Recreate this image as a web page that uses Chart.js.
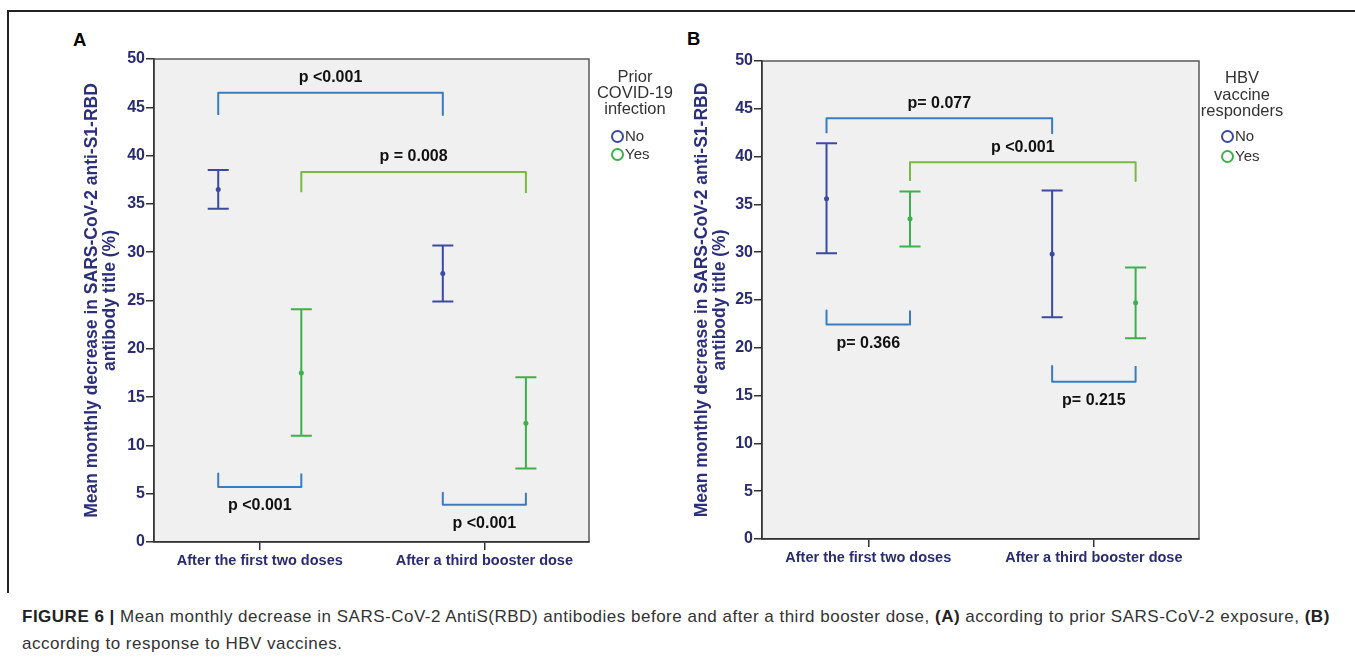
<!DOCTYPE html>
<html lang="en">
<head>
<meta charset="utf-8">
<title>Figure 6</title>
<script src="https://cdn.jsdelivr.net/npm/chart.js@4.4.1/dist/chart.umd.min.js"></script>
<style>
  html, body { margin: 0; padding: 0; background: #fff; }
  body {
    position: relative; width: 1355px; height: 664px; overflow: hidden;
    font-family: "Liberation Sans", Arial, Helvetica, sans-serif;
  }
  canvas { position: absolute; top: 0; }
  #frame-top { position: absolute; left: 7px; top: 10px; width: 1348px; height: 2px; background: #222; }
  #frame-left { position: absolute; left: 7px; top: 10px; width: 2px; height: 583px; background: #222; }
  .letter { position: absolute; font-weight: bold; font-size: 18.5px; line-height: 20px; color: #000; }
  .legend-title { position: absolute; width: 120px; text-align: center; color: #333; font-size: 16.5px; }
  .legend-item { position: absolute; display: flex; align-items: center; color: #333; font-size: 15px; line-height: 16px; }
  .legend-item i { display: inline-block; width: 9px; height: 9px; border: 2px solid; border-radius: 50%; margin-right: 1px; }
  .caption { position: absolute; left: 22px; top: 603px; font-size: 17px; letter-spacing: 0.5px; line-height: 27px; color: #333; white-space: nowrap; }
  .caption b { color: #222; }
</style>
</head>
<body>
<div id="frame-top"></div>
<div id="frame-left"></div>

<div class="letter" style="left:73px; top:30px;">A</div>
<div class="letter" style="left:687px; top:29px;">B</div>

<canvas id="chart-a" width="677" height="600" style="left:0"></canvas>
<canvas id="chart-b" width="678" height="600" style="left:677px"></canvas>

<div class="legend-title" style="left:575px; top:68px; line-height:16px;">Prior<br>COVID-19<br>infection</div>
<div class="legend-item" style="left:611px; top:128px;"><i style="border-color:#3b4aa0"></i>No</div>
<div class="legend-item" style="left:611px; top:146px;"><i style="border-color:#3cb04a"></i>Yes</div>

<div class="legend-title" style="left:1182px; top:69px; line-height:16.7px;">HBV<br>vaccine<br>responders</div>
<div class="legend-item" style="left:1221px; top:128px;"><i style="border-color:#3b4aa0"></i>No</div>
<div class="legend-item" style="left:1221px; top:148px;"><i style="border-color:#3cb04a"></i>Yes</div>

<div class="caption"><b>FIGURE 6 |</b> Mean monthly decrease in SARS-CoV-2 AntiS(RBD) antibodies before and after a third booster dose, <b>(A)</b> according to prior SARS-CoV-2 exposure, <b>(B)</b><br>according to response to HBV vaccines.</div>

<script>
// Figura 6: duas tabelas de erro (média e IC 95%) com colchetes de significância.
(function () {
  "use strict";

  if (typeof Chart === "undefined") return;

  // ---- Dados ----
  var DOSES = ["After the first two doses", "After a third booster dose"];
  var Y_TICKS = [0, 5, 10, 15, 20, 25, 30, 35, 40, 45, 50];

  // A: infecção prévia por COVID-19
  var A_NO_MEAN = [36.5, 27.8];
  var A_NO_LOW = [34.5, 24.9];
  var A_NO_HIGH = [38.5, 30.7];
  var A_YES_MEAN = [17.5, 12.3];
  var A_YES_LOW = [11.0, 7.6];
  var A_YES_HIGH = [24.1, 17.05];

  // colchetes de A: [dose, grupo] de cada ponta, altura da barra e das pontas
  var A_BR_FROM = [[0, "No"], [0, "Yes"], [0, "No"], [1, "No"]];
  var A_BR_TO = [[1, "No"], [1, "Yes"], [0, "Yes"], [1, "Yes"]];
  var A_BR_BAR = [46.5, 38.3, 5.7, 3.85];
  var A_BR_TIP = [44.2, 36.2, 7.1, 5.1];
  var A_P_TEXT = ["p <0.001", "p = 0.008", "p <0.001", "p <0.001"];

  // B: respondedores à vacina de HBV
  var B_NO_MEAN = [35.6, 29.8];
  var B_NO_LOW = [29.9, 23.2];
  var B_NO_HIGH = [41.4, 36.45];
  var B_YES_MEAN = [33.5, 24.7];
  var B_YES_LOW = [30.6, 21.0];
  var B_YES_HIGH = [36.35, 28.4];

  var B_BR_FROM = [[0, "No"], [0, "Yes"], [0, "No"], [1, "No"]];
  var B_BR_TO = [[1, "No"], [1, "Yes"], [0, "Yes"], [1, "Yes"]];
  var B_BR_BAR = [44.0, 39.4, 22.45, 16.45];
  var B_BR_TIP = [42.45, 37.45, 23.9, 18.1];
  var B_P_TEXT = ["p= 0.077", "p <0.001", "p= 0.366", "p= 0.215"];

  // ---- Estilo ----
  var FONT = "'Liberation Sans', Arial, Helvetica, sans-serif";
  var BAR_BLUE = "#3b4aa0";
  var BAR_GREEN = "#3cb04a";
  var BR_BLUE = "#3a7cc0";
  var BR_GREEN = "#7ab840";
  var NAVY = "#2a2c70";
  var AXIS = "#333333";
  var PLOT_BG = "#f0f0f0";
  var OFFSET = 0.185; // deslocamento lateral No / Yes dentro de cada dose
  var CAP = 10.5; // meia largura do traço das barras de erro (px)
  var X_MIN = -0.471;
  var X_MAX = 1.466;

  function groupX(dose, group) {
    return dose + (group === "No" ? -OFFSET : OFFSET);
  }

  function points(means, group) {
    return means.map(function (m, i) {
      return { x: groupX(i, group), y: m };
    });
  }

  // fundo cinza e moldura da área do gráfico
  var plotFrame = {
    id: "plotFrame",
    beforeDraw: function (chart) {
      var a = chart.chartArea, ctx = chart.ctx;
      ctx.save();
      ctx.fillStyle = PLOT_BG;
      ctx.fillRect(a.left, a.top, a.right - a.left, a.bottom - a.top);
      ctx.strokeStyle = "#5a5a5a";
      ctx.lineWidth = 1.5;
      ctx.strokeRect(a.left, a.top, a.right - a.left, a.bottom - a.top);
      ctx.restore();
    },
  };

  // barras de erro (IC) desenhadas antes do ponto da média
  var errorBars = {
    id: "errorBars",
    beforeDatasetDraw: function (chart, args) {
      var ds = chart.data.datasets[args.index];
      if (!ds.errorLow) return;
      var y = chart.scales.y, ctx = chart.ctx;
      ctx.save();
      ctx.strokeStyle = ds.borderColor;
      ctx.lineWidth = 2;
      args.meta.data.forEach(function (pt, i) {
        var yl = y.getPixelForValue(ds.errorLow[i]);
        var yh = y.getPixelForValue(ds.errorHigh[i]);
        ctx.beginPath();
        ctx.moveTo(pt.x, yh);
        ctx.lineTo(pt.x, yl);
        ctx.moveTo(pt.x - CAP, yh);
        ctx.lineTo(pt.x + CAP, yh);
        ctx.moveTo(pt.x - CAP, yl);
        ctx.lineTo(pt.x + CAP, yl);
        ctx.stroke();
      });
      ctx.restore();
    },
  };

  // rótulos de p acima/abaixo de cada colchete
  function pLabels(from, to, bar, tip, text) {
    return {
      id: "pLabels",
      afterDatasetsDraw: function (chart) {
        var xs = chart.scales.x, ys = chart.scales.y, ctx = chart.ctx;
        ctx.save();
        ctx.font = "bold 16px " + FONT;
        ctx.fillStyle = "#111";
        ctx.textAlign = "center";
        ctx.textBaseline = "middle";
        text.forEach(function (t, i) {
          var x1 = xs.getPixelForValue(groupX(from[i][0], from[i][1]));
          var x2 = xs.getPixelForValue(groupX(to[i][0], to[i][1]));
          var yb = ys.getPixelForValue(bar[i]);
          var up = tip[i] < bar[i];
          ctx.fillText(t, (x1 + x2) / 2, up ? yb - 15 : yb + 19);
        });
        ctx.restore();
      },
    };
  }

  function bracketDatasets(from, to, bar, tip) {
    return from.map(function (f, i) {
      var t = to[i];
      var color = f[1] === "Yes" && t[1] === "Yes" ? BR_GREEN : BR_BLUE;
      var xa = groupX(f[0], f[1]), xb = groupX(t[0], t[1]);
      return {
        label: "bracket " + i,
        data: [
          { x: xa, y: tip[i] },
          { x: xa, y: bar[i] },
          { x: xb, y: bar[i] },
          { x: xb, y: tip[i] },
        ],
        showLine: true,
        borderColor: color,
        borderWidth: 2,
        borderJoinStyle: "round",
        pointRadius: 0,
        fill: false,
      };
    });
  }

  function panel(canvasId, p) {
    var canvas = document.getElementById(canvasId);
    if (!canvas) return;
    var datasets = [
      {
        label: "No",
        data: points(p.noMean, "No"),
        errorLow: p.noLow,
        errorHigh: p.noHigh,
        borderColor: BAR_BLUE,
        backgroundColor: BAR_BLUE,
        pointRadius: 2.5,
        pointBorderWidth: 0,
      },
      {
        label: "Yes",
        data: points(p.yesMean, "Yes"),
        errorLow: p.yesLow,
        errorHigh: p.yesHigh,
        borderColor: BAR_GREEN,
        backgroundColor: BAR_GREEN,
        pointRadius: 2.5,
        pointBorderWidth: 0,
      },
    ].concat(bracketDatasets(p.brFrom, p.brTo, p.brBar, p.brTip));

    new Chart(canvas, {
      type: "scatter",
      data: { datasets: datasets },
      plugins: [plotFrame, errorBars, pLabels(p.brFrom, p.brTo, p.brBar, p.brTip, p.pText)],
      options: {
        responsive: false,
        animation: false,
        events: [],
        layout: { padding: p.padding },
        plugins: { legend: { display: false }, tooltip: { enabled: false } },
        scales: {
          x: {
            type: "linear",
            min: X_MIN,
            max: X_MAX,
            afterBuildTicks: function (s) {
              s.ticks = DOSES.map(function (_, i) {
                return { value: i };
              });
            },
            afterFit: function (s) {
              s.height = 40;
            },
            ticks: {
              callback: function (v) {
                return DOSES[v];
              },
              autoSkip: false,
              maxRotation: 0,
              padding: 2,
              color: NAVY,
              font: { family: FONT, size: 14.5, weight: "bold" },
            },
            grid: { drawOnChartArea: false, tickLength: 8, color: AXIS, lineWidth: 1.5 },
            border: { color: AXIS, width: 1.5 },
          },
          y: {
            min: 0,
            max: 50,
            afterBuildTicks: function (s) {
              s.ticks = Y_TICKS.map(function (v) {
                return { value: v };
              });
            },
            afterFit: function (s) {
              s.width = p.yWidth;
            },
            ticks: {
              padding: 1,
              color: NAVY,
              font: { family: FONT, size: 16, weight: "bold" },
            },
            grid: { drawOnChartArea: false, tickLength: 8, color: AXIS, lineWidth: 1.5 },
            border: { color: AXIS, width: 1.5 },
            title: {
              display: true,
              text: ["Mean monthly decrease in SARS-CoV-2 anti-S1-RBD", "antibody title (%)"],
              color: "#2b2f7c",
              font: { family: FONT, size: 17.5, weight: "bold", lineHeight: 1.05 },
              padding: { top: 3, bottom: 0 },
            },
          },
        },
      },
    });
  }

  panel("chart-a", {
    noMean: A_NO_MEAN, noLow: A_NO_LOW, noHigh: A_NO_HIGH,
    yesMean: A_YES_MEAN, yesLow: A_YES_LOW, yesHigh: A_YES_HIGH,
    brFrom: A_BR_FROM, brTo: A_BR_TO, brBar: A_BR_BAR, brTip: A_BR_TIP, pText: A_P_TEXT,
    padding: { left: 80, top: 59, right: 88, bottom: 18 },
    yWidth: 74,
  });

  panel("chart-b", {
    noMean: B_NO_MEAN, noLow: B_NO_LOW, noHigh: B_NO_HIGH,
    yesMean: B_YES_MEAN, yesLow: B_YES_LOW, yesHigh: B_YES_HIGH,
    brFrom: B_BR_FROM, brTo: B_BR_TO, brBar: B_BR_BAR, brTip: B_BR_TIP, pText: B_P_TEXT,
    padding: { left: 13, top: 61, right: 156, bottom: 21 },
    yWidth: 72,
  });
})();
</script>
</body>
</html>
